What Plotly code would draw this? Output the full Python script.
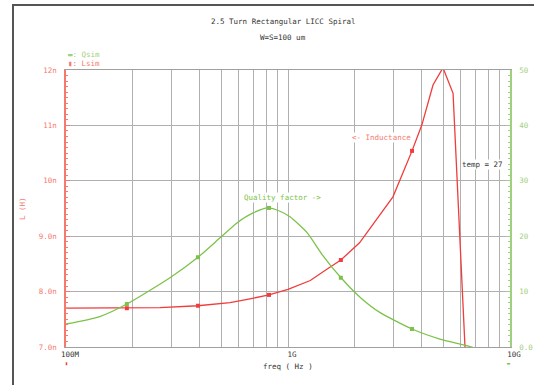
import plotly.graph_objects as go

# ---- data ----
freq_L = [1.00e8, 1.42e8, 1.88e8, 2.65e8, 3.93e8, 5.48e8, 6.74e8, 8.21e8, 1.00e9,
          1.26e9, 1.49e9, 1.73e9, 2.10e9, 2.45e9, 2.97e9, 3.62e9, 4.01e9, 4.50e9,
          4.99e9, 5.54e9, 6.60e9]
L_nH = [7.70, 7.70, 7.70, 7.71, 7.745, 7.80, 7.87, 7.94, 8.04,
        8.20, 8.40, 8.57, 8.88, 9.24, 9.71, 10.54, 11.01, 11.73,
        12.04, 11.58, 5.10]

freq_Q = [1.00e8, 1.42e8, 1.88e8, 2.94e8, 3.93e8, 4.94e8, 5.89e8, 6.96e8, 8.12e8,
          9.20e8, 1.021e9, 1.221e9, 1.43e9, 1.733e9, 2.11e9, 2.58e9, 3.62e9,
          4.83e9, 6.73e9, 7.50e9]
Q = [4.15, 5.5, 7.76, 12.5, 16.2, 19.7, 22.4, 24.2, 25.1,
     24.5, 23.5, 20.6, 16.6, 12.5, 9.0, 6.3, 3.25,
     1.44, 0.0, -0.8]

freq_mark = [1.88e8, 3.93e8, 8.21e8, 1.73e9, 3.62e9]
L_mark = [7.70, 7.745, 7.94, 8.57, 10.54]
Q_mark = [7.76, 16.2, 25.1, 12.5, 3.25]

x_tick_vals = [m * 10 ** e for e in (8, 9) for m in range(1, 10)] + [1e10]
x_tick_names = {1e8: "100M", 1e9: "1G", 1e10: "10G"}
L_tick_vals = [7, 8, 9, 10, 11, 12]
L_tick_text = ["7.0n", "8.0n", "9.0n", "10n", "11n", "12n"]
Q_tick_vals = [0, 10, 20, 30, 40, 50]
Q_tick_text = ["0.0", "10", "20", "30", "40", "50"]

# ---- styles ----
FONT = "DejaVu Sans Mono"
RED = "#f03c3c"
RED_LT = "#f47a6e"
GREEN = "#7cc24a"
GREEN_LT = "#9fd07e"
GRID = "#b0b0b0"
DARK = "#333333"

fig = go.Figure()
fig.add_trace(go.Scatter(x=freq_L, y=L_nH, mode="lines",
                         line=dict(color=RED, width=1.3), yaxis="y", showlegend=False))
fig.add_trace(go.Scatter(x=freq_mark, y=L_mark, mode="markers",
                         marker=dict(symbol="square", size=4, color=RED), yaxis="y",
                         showlegend=False))
fig.add_trace(go.Scatter(x=freq_Q, y=Q, mode="lines", line_shape="spline",
                         line=dict(color=GREEN, width=1.3, smoothing=0.6), yaxis="y2",
                         showlegend=False))
fig.add_trace(go.Scatter(x=freq_mark, y=Q_mark, mode="markers",
                         marker=dict(symbol="square", size=4, color=GREEN), yaxis="y2",
                         showlegend=False))

W, H = 534, 385
ml, mr, mt, mb = 66, 24, 70, 38
pw, ph = W - ml - mr, H - mt - mb


def px(x):
    return (x - ml) / pw


def py(y):
    return (H - mb - y) / ph


fig.update_layout(
    width=W, height=H,
    margin=dict(l=ml, r=mr, t=mt, b=mb, pad=0, autoexpand=False),
    paper_bgcolor="white", plot_bgcolor="white",
    font=dict(family=FONT, size=8, color=DARK),
    xaxis=dict(type="log", range=[8, 10], automargin=False,
               tickmode="array", tickvals=x_tick_vals,
               ticktext=[x_tick_names.get(v, "") for v in x_tick_vals],
               showgrid=True, gridcolor=GRID, gridwidth=1,
               showline=True, linecolor="#a0a0a0", linewidth=1, mirror=True,
               ticks="", tickfont=dict(family=FONT, size=7.5, color=DARK),
               ticklabelshift=4, ticklabelstandoff=0, zeroline=False),
    yaxis=dict(range=[7, 12], automargin=False, tickmode="array", tickvals=L_tick_vals,
               ticktext=L_tick_text, showgrid=True, gridcolor=GRID,
               showline=True, linecolor=RED_LT, linewidth=1.5,
               ticks="inside", ticklen=4, tickcolor=RED_LT,
               minor=dict(dtick=0.1, tick0=7, ticks="inside", ticklen=2,
                          tickcolor=RED_LT, showgrid=False),
               tickfont=dict(family=FONT, size=7.5, color=RED_LT),
               ticklabelstandoff=6, zeroline=False),
    yaxis2=dict(range=[0, 50], automargin=False, overlaying="y", side="right",
                tickmode="array", tickvals=Q_tick_vals, ticktext=Q_tick_text,
                showgrid=False, showline=True, linecolor=GREEN_LT, linewidth=1.5,
                ticks="inside", ticklen=4, tickcolor=GREEN_LT,
                minor=dict(dtick=1, tick0=0, ticks="inside", ticklen=2,
                           tickcolor=GREEN_LT, showgrid=False),
                tickfont=dict(family=FONT, size=7.5, color=GREEN_LT),
                ticklabelstandoff=6, zeroline=False),
    shapes=[dict(type="rect", xref="paper", yref="paper",
                 x0=px(13), x1=px(545), y0=py(395), y1=py(5),
                 line=dict(color="#555555", width=2), layer="above")],
)

ann = []


def add(text, x, y, color=DARK, size=7.5, xanchor="center", angle=0, bg=None):
    d = dict(text=text, x=px(x), y=py(y), xref="paper", yref="paper",
             showarrow=False, xanchor=xanchor, yanchor="middle",
             font=dict(family=FONT, size=size, color=color), textangle=angle)
    if bg:
        d["bgcolor"] = bg
        d["borderpad"] = 0
    ann.append(d)


add("2.5 Turn Rectangular LICC Spiral", 283, 22)
add("W=S=100 um", 283, 38)
add("▬: Qsim", 66, 54, color=GREEN_LT, xanchor="left")
add("▮: Lsim", 66, 63, color=RED_LT, xanchor="left")
add("L (H)", 22, 209, color=RED_LT, angle=-90)
add("freq ( Hz )", 288, 366)
add("▮", 66, 363, color=RED, size=5)
add("▬", 508, 363, color=GREEN, size=5)
add("<- Inductance", 381, 137, color=RED_LT, bg="white")
add("Quality factor ->", 282, 197, color=GREEN, bg="white")
add("temp = 27", 461, 164, color=DARK, xanchor="left", bg="white")
fig.update_layout(annotations=ann)

fig.write_html("out.html")
